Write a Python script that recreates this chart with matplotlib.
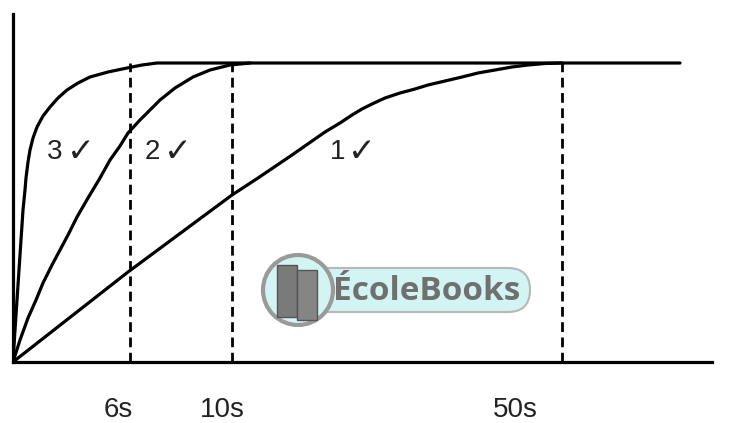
import matplotlib
matplotlib.use("Agg")
import matplotlib.pyplot as plt
from matplotlib.patches import FancyBboxPatch, Circle, Rectangle

# curve data (x: sketch time units, y: response, 299 = final value)
curve1_x = [0, 115, 219, 245, 279, 312, 327, 339, 349, 359, 372, 387, 402,
            415, 432, 449, 465, 482, 499, 515, 532, 549]
curve1_y = [0, 90, 167, 184, 207, 230, 239, 247, 253, 258, 264, 269, 273,
            277, 281, 285, 289, 292, 295, 297, 298.5, 299]

curve2_x = [0, 7, 15, 23, 30, 39, 47, 55, 64, 75, 87, 97, 107, 115, 127,
            137, 147, 162, 180, 197, 217, 237]
curve2_y = [0, 22, 44, 62, 79, 97, 112, 127, 145, 164, 184, 202, 216, 229,
            242, 252, 262, 274, 285, 292, 297, 299]

curve3_x = [0, 2, 4, 6, 8, 10, 12, 13, 15, 17, 20, 24, 30, 37, 45, 54, 65,
            77, 95, 114, 129, 144, 667]
curve3_y = [0, 32, 62, 92, 122, 152, 172, 184, 200, 212, 224, 235, 246, 255,
            264, 272, 279, 285, 290, 294, 297, 299, 299]

final_y = 299
marks_x = [117, 219, 549]
marks_lbl = ["6s", "10s", "50s"]
lbl_x = [105, 209, 502]

curve_num = ["3", "2", "1"]
curve_num_x = [34, 132, 317]
tick_x = [54, 151, 335]
curve_lbl_y = 210

fam = ["Liberation Sans", "DejaVu Sans"]

fig = plt.figure(figsize=(7.3, 4.23), dpi=100)
ax = fig.add_axes([13 / 730, 61 / 423, 699 / 730, 348 / 423])
ax.set_xlim(0, 699)
ax.set_ylim(0, 348)

lw = 2.3
for cx, cy in [(curve1_x, curve1_y), (curve2_x, curve2_y), (curve3_x, curve3_y)]:
    ax.plot(cx, cy, color="black", lw=lw, solid_capstyle="round",
            solid_joinstyle="round")

for x in marks_x:
    ax.plot([x, x], [0, final_y], color="black", lw=2.0, ls=(0, (3.5, 2)))

for x, t in zip(lbl_x, marks_lbl):
    ax.text(x, -48, t, ha="center", va="center", fontsize=20, family=fam,
            color="#222222", clip_on=False)

for x, t, xt in zip(curve_num_x, curve_num, tick_x):
    ax.text(x, curve_lbl_y, t, ha="left", va="center", fontsize=20,
            family=fam, color="#222222")
    ax.text(xt, curve_lbl_y, "✓", ha="left", va="center", fontsize=24,
            family="DejaVu Sans", color="#222222")

for s in ["top", "right"]:
    ax.spines[s].set_visible(False)
for s in ["left", "bottom"]:
    ax.spines[s].set_linewidth(2.3)
ax.set_xticks([])
ax.set_yticks([])
ax.patch.set_alpha(0)

# watermark logo
wax = fig.add_axes([0, 0, 1, 1], zorder=-1)
wax.set_xlim(0, 730)
wax.set_ylim(423, 0)
wax.axis("off")
wax.add_patch(FancyBboxPatch((290, 268), 240, 44, boxstyle="round,pad=0,rounding_size=22",
                             fc="#d2f4f2", ec="#b8b8b8", lw=1.5))
wax.add_patch(Circle((298, 290), 35, fc="#d2f4f2", ec="#9a9a9a", lw=3))
wax.add_patch(Rectangle((277, 265), 20, 52, fc="#7a7a7a", ec="#555555", lw=1))
wax.add_patch(Rectangle((297, 270), 20, 50, fc="#858585", ec="#555555", lw=1))
wax.text(333, 291, "ÉcoleBooks", ha="left", va="center", fontsize=24,
         fontweight="bold", family="Open Sans", color="#707070")

fig.savefig("out.png", dpi=100)
